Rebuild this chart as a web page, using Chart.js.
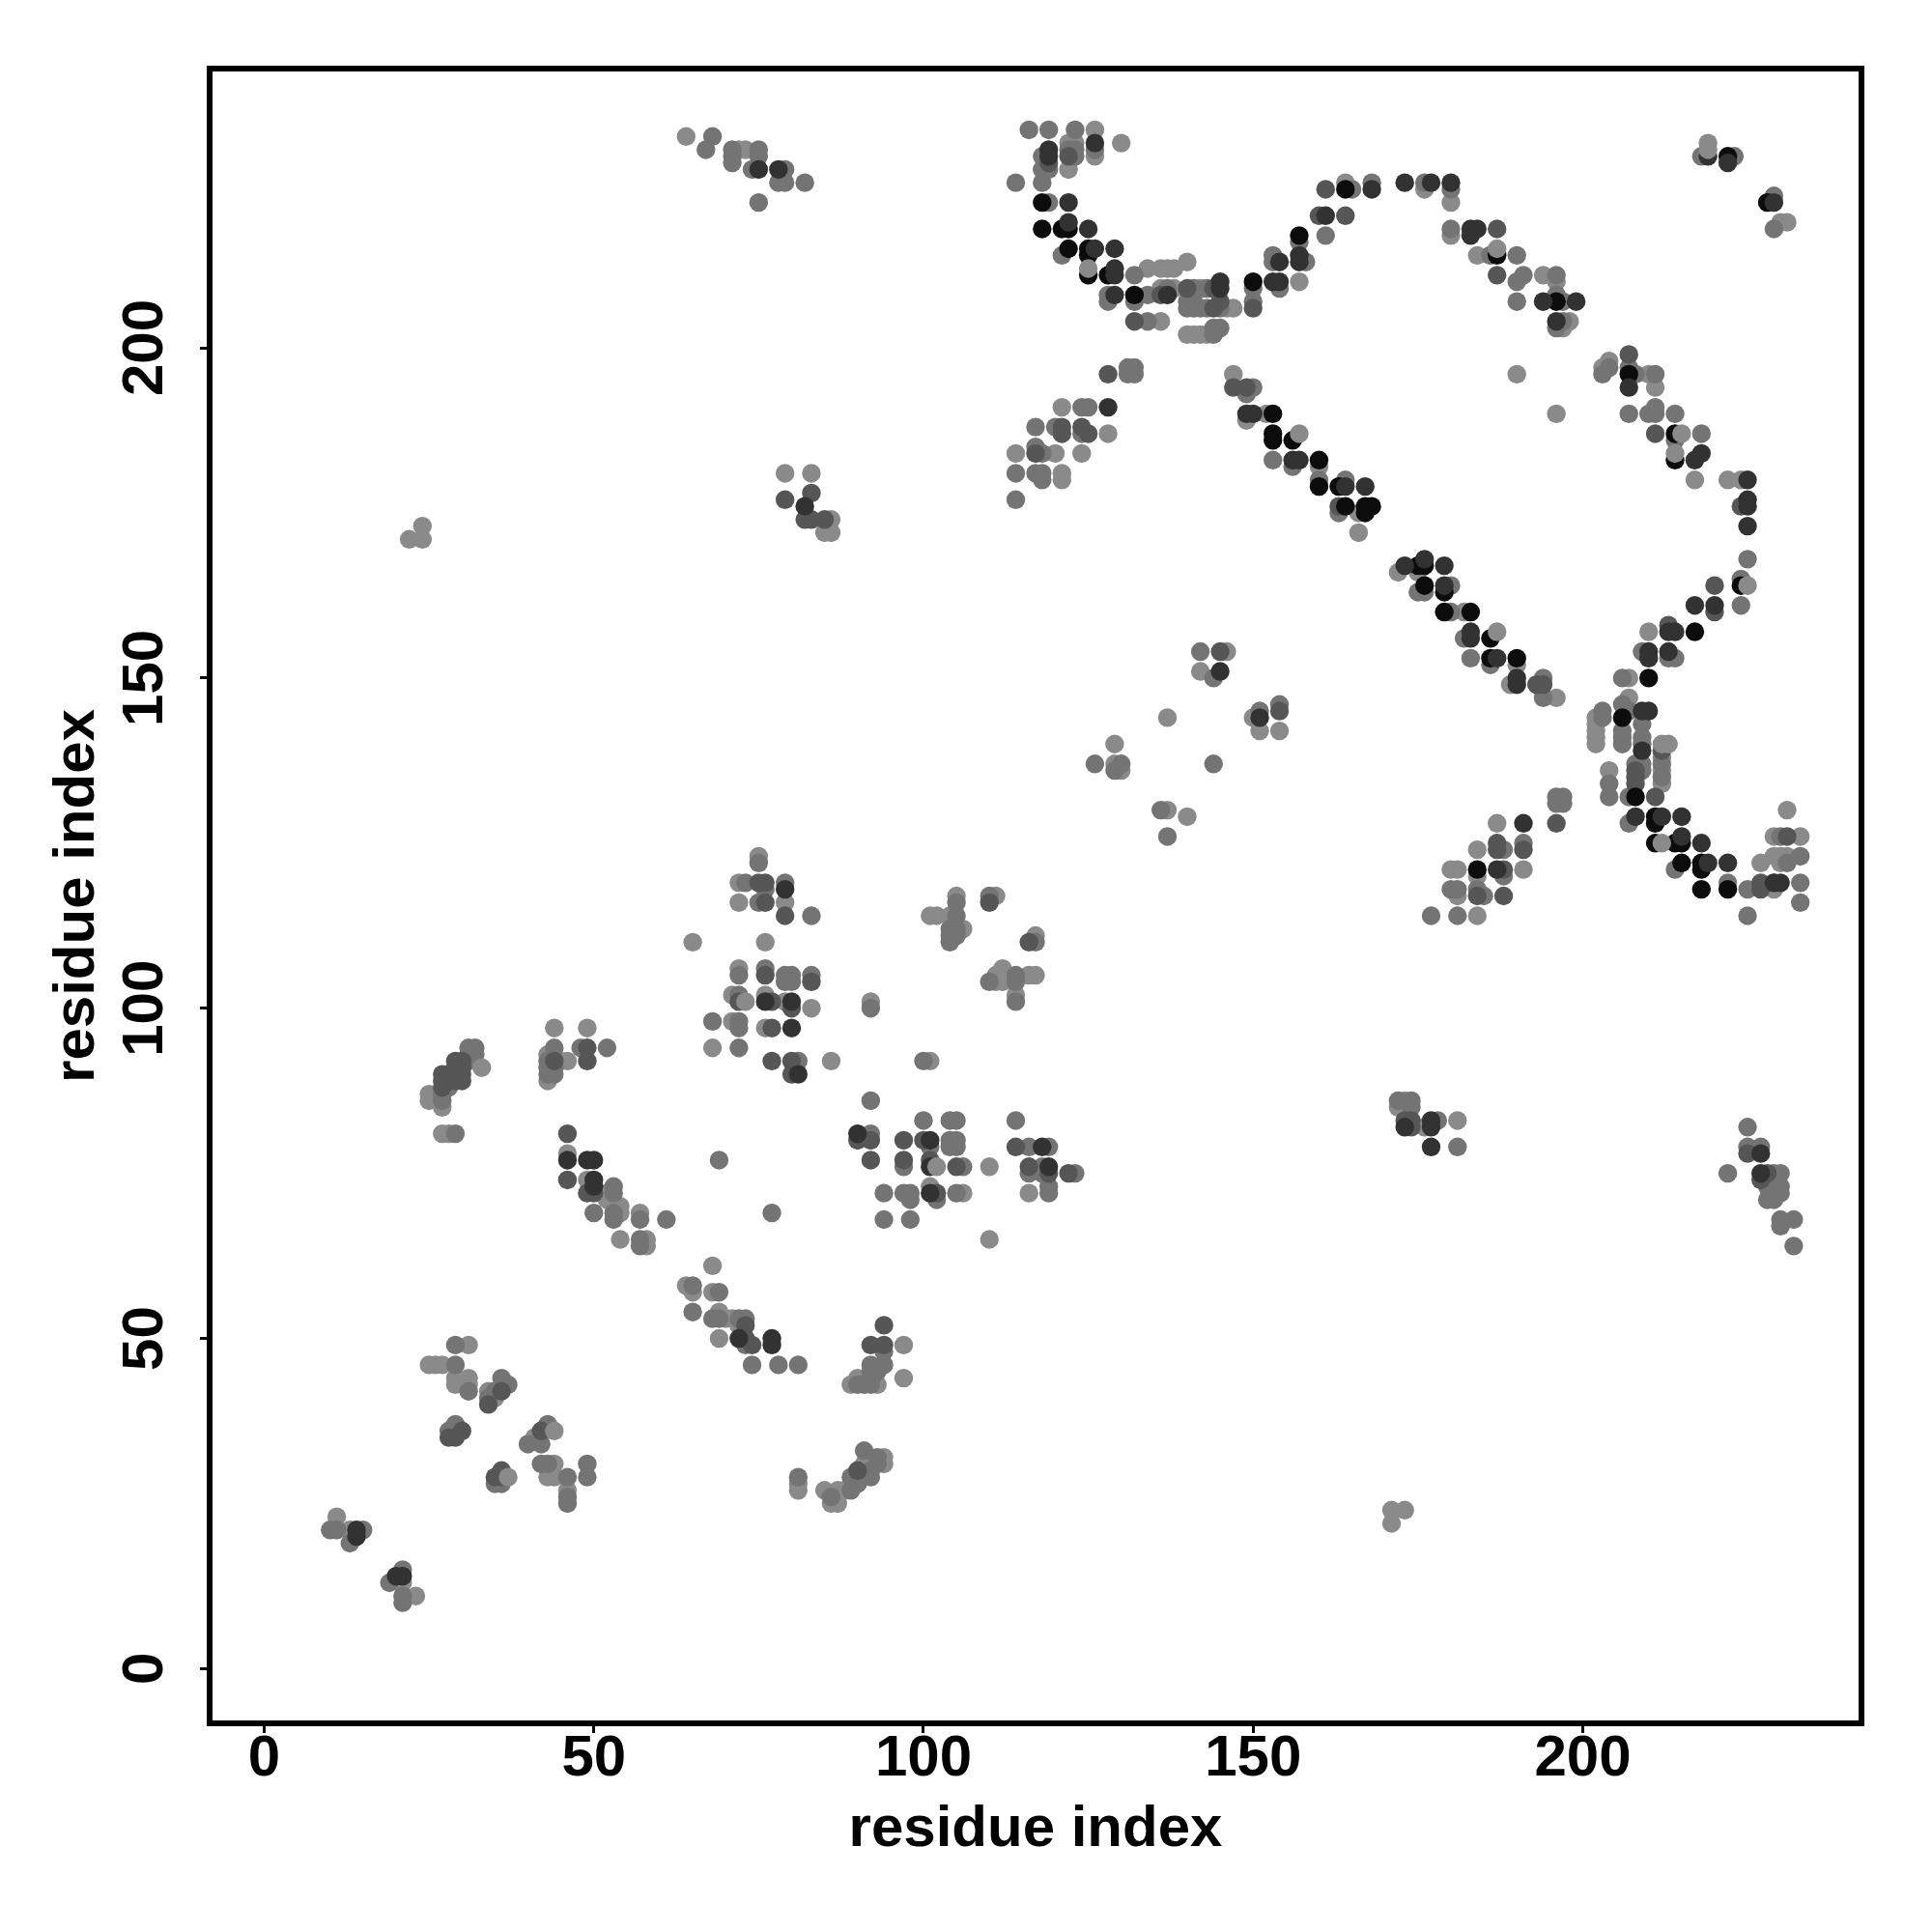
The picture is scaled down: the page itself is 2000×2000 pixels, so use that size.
<!DOCTYPE html>
<html>
<head>
<meta charset="utf-8">
<script src="https://cdn.jsdelivr.net/npm/chart.js@4"></script>
<style>
  html, body { margin: 0; padding: 0; background: #ffffff; }
  canvas { display: block; }
</style>
</head>
<body>
<canvas id="myChart" width="2000" height="2000"></canvas>
<script>
// residue contacts as [i, j] and grouped by grey level
var lightPts = [[11,23],[13,21],[23,11],[21,13],[31,49],[25,46],[26,46],[27,46],[29,44],[29,43],[31,44],[31,43],[34,42],[35,41],
  [41,35],[44,31],[43,29],[44,29],[46,27],[25,87],[25,86],[27,85],[27,81],[28,81],[44,97],[49,97],[46,92],[45,92],[43,93],[43,89],
  [46,78],[49,74],[52,72],[52,71],[54,70],[54,69],[57,69],[54,65],[58,65],[58,64],[65,110],[76,110],[75,123],[72,119],[72,116],[79,116],
  [72,106],[71,102],[76,102],[79,101],[83,100],[71,98],[76,97],[68,94],
  [86,92],[92,101],[101,92],[105,117],[111,117],[101,114],[102,114],[104,114],[106,112],[117,111],[112,106],[111,105],[111,104],[112,104],[116,105],[117,105],[114,102],
  [110,76],[101,73],[106,72],[110,65],[116,72],
  [68,61],[64,58],[65,57],[68,57],[69,54],[70,53],[71,53],[69,50],[72,52],
  [97,49],[97,44],[89,43],[90,44],[93,43],[81,28],[81,27],[85,27],[86,25],[87,25],[87,27],[88,27],[91,31],[94,31],[94,32],
  [24,173],[22,171],[24,171],[79,181],[83,181],[85,172],[86,172],[86,174],[129,140],[129,137],[130,136],[137,144],[137,130],[140,129],[154,142],[151,142],[142,151],[146,154],[150,144],
  [173,86],[172,85],[176,82],[181,83],[173,24],[171,24],[171,22],
  [187,128],[184,124],[180,121],[181,121],[184,120],[191,121],[181,117],[184,114],
  [202,140],[202,141],[202,142],[202,143],[207,147],[212,138],[212,136],[212,134],[204,136],[202,144],[233,126],[231,130],[229,126],[229,123],[230,123],[231,123],[230,122],[229,118],[227,122],
  [147,196],[149,189],[152,190],[160,182],[166,175],[166,172],[175,166],[172,166],[182,160],[190,152],[196,147],[189,149],
  [204,198],[203,197],[190,196],[196,190],[210,196],[211,194],[217,180],[222,180],[224,180],[210,157],[207,150],
  [126,233],[130,231],[122,231],[123,231],[126,229],[122,227],[114,184],[120,184],[124,184],[121,191],[128,187],[121,181],[121,180],
  [134,212],[136,212],[137,212],[138,212],[140,213],[136,209],[138,209],[136,204],[140,202],[141,202],[142,202],[143,202],[147,206],[146,206],[142,209],[157,210],
  [164,225],[180,222],[180,217],[176,224],[184,214],[186,214],[194,211],[196,210],[198,204],[197,203],[231,219],[230,219],[64,232],[72,230],[73,230]];

// light dots that sit on top of their darker neighbours
var topLightPts = [[212,125],[157,187],[187,157],[215,187],[214,184],[225,164],[187,215],[73,101],[102,76],[33,91],[37,29],[44,36],
  [125,212],[212,140],[213,140],[219,231],[219,230]];

var midPts = [[10,21],[11,21],[13,19],[15,21],[21,15],[19,13],[21,10],[21,11],[29,49],[29,46],[31,42],[36,44],[37,43],[35,42],[34,41],
  [29,37],[28,36],[43,37],[42,34],[40,34],[35,28],[36,28],[42,31],[43,31],[46,29],[46,26],[46,25],[49,31],[49,29],
  [27,86],[27,87],[28,88],[31,94],[31,93],[31,92],[32,94],[32,93],[29,81],[44,94],[48,94],[52,94],[43,92],[43,91],[43,90],[44,91],[44,90],
  [53,73],[53,72],[50,69],[53,69],[53,68],[57,68],[61,68],[57,65],[57,64],[75,122],[73,119],[76,118],[79,119],[75,116],[83,114],
  [72,105],[76,106],[79,105],[79,104],[80,105],[80,104],[83,105],[72,102],[68,98],[72,98],[72,97],[72,94],[81,92],[69,77],[77,69],
  [92,100],[92,86],[100,92],[105,116],[110,117],[105,114],[104,112],[105,112],[104,111],[105,111],[104,110],[117,110],[110,104],[114,105],[114,104],[114,101],
  [100,83],[104,83],[105,83],[114,83],[92,81],[101,79],[104,80],[105,80],[104,79],[105,79],[97,76],[106,76],[94,72],[97,72],[98,72],[98,71],[102,71],[105,72],[94,68],[98,68],
  [116,79],[119,79],[116,75],[118,76],[118,75],[123,75],[119,73],[119,72],
  [65,58],[69,57],[65,54],[68,53],[69,53],[73,53],[72,53],[73,49],[74,46],[78,46],[81,46],[92,46],[94,46],[92,44],[90,43],[91,43],[92,43],[93,45],[92,45],[94,48],
  [89,27],[90,28],[89,29],[93,32],[93,31],[92,30],[92,29],[91,33],[81,29],[86,26],
  [126,137],[129,136],[130,137],[136,130],[137,126],[144,137],[142,154],[144,150],[151,145],[154,146],
  [172,86],[174,86],[174,85],[178,83],[181,79],[225,82],[225,79],[227,79],[222,75],[229,75],[230,75],[228,73],[228,71],[229,73],[230,73],[230,72],[229,71],[230,67],[232,68],[232,64],[230,68],
  [177,114],[181,118],[188,120],[191,125],[185,117],[181,114],[196,131],[196,132],[197,132],[197,131],[188,124],[180,118],[184,118],
  [203,145],[203,144],[206,146],[206,142],[206,141],[206,140],[207,145],[209,143],[209,141],[209,140],[208,137],[212,137],[212,135],[204,134],[204,132],[207,132],[207,128],[209,136],[209,137],
  [214,121],[225,118],[225,114],[229,119],[230,126],[233,116],[233,123],[233,119],[222,119],[231,122],
  [150,194],[149,193],[153,183],[156,182],[160,180],[163,175],[164,180],[175,163],[176,163],[180,164],[180,160],[183,153],[186,152],[182,156],[194,147],[194,150],
  [203,196],[204,197],[207,197],[208,196],[211,196],[207,190],[210,190],[211,190],[211,191],[214,190],[214,186],[218,187],[225,168],[224,165],[224,161],[214,153],[213,153],[206,150],[209,154],
  [116,233],[119,233],[123,233],[118,229],[122,230],[123,230],[123,229],[126,230],[114,225],[118,225],[119,227],[118,227],[119,222],[121,214],[128,208],[128,207],[132,207],
  [132,211],[134,208],[137,209],[140,207],[141,207],[140,206],[141,206],[142,206],[143,206],[145,206],[144,203],[145,203],[144,202],[134,204],[141,209],[143,209],[150,209],[150,207],
  [153,214],[153,213],[154,209],[157,216],[158,213],[165,224],[161,217],[168,225],[180,224],[176,225],
  [131,197],[132,197],[131,196],[132,196],[124,191],[125,191],[117,188],[120,188],[124,187],[117,185],[118,184],[117,181],[118,181],[118,180],[114,181],[114,177],
  [180,218],[186,214],[190,214],[190,207],[191,211],[190,210],[196,211],[197,207],[196,208],[197,204],[196,203],[218,229],[223,229],[229,223],[229,218],
  [67,230],[68,232],[71,230],[71,229],[71,228],[75,230],[75,229],[74,227],[78,225],[79,225],[79,227],[82,225],[75,222]];

var dimPts = [[34,40],[36,42],[30,36],[28,35],[29,35],[42,36],[36,30],[35,29],[36,29],[27,88],[27,89],[27,90],[28,90],[28,89],[29,92],[29,91],[29,90],[30,90],[29,89],[30,89],[30,91],[30,92],
  [49,94],[49,92],[44,92],[46,81],[46,74],[49,72],[50,72],[76,119],[75,119],[76,116],[79,114],[76,105],[83,104],[72,101],[77,101],[80,100],[77,97],[77,92],[80,92],[80,90],
  [110,116],[116,110],[90,80],[92,80],[92,77],[97,80],[100,80],[97,77],[101,77],[105,76],[102,72],[114,79],[116,76],[119,75],[122,75],
  [73,50],[73,52],[74,49],[94,52],[94,49],[92,49],[90,30],[79,177],[82,174],[83,174],[83,178],[85,174],[145,154],[154,145],
  [174,83],[173,83],[174,82],[225,78],[227,74],[228,75],
  [187,125],[187,124],[188,121],[184,117],[188,117],[191,124],[196,128],[208,135],[208,134],[208,136],[212,139],[211,132],[227,119],[227,118],[231,126],
  [147,194],[149,194],[163,176],[193,149],[194,149],[220,164],[220,160],[211,187],[207,199],[224,176],
  [119,228],[122,229],[136,208],[140,209],[144,209],[145,207],[144,206],[132,204],[161,224],[160,220],[164,220],[150,206],
  [128,196],[117,184],[121,188],[121,187],[124,188],[125,187],[213,158],[187,211],[187,218]];

var darkPts = [[14,21],[14,20],[20,14],[21,14],[46,77],[49,77],[50,77],[50,74],[50,73],[79,118],[76,101],[80,101],[80,97],[81,90],
  [90,81],[101,80],[101,76],[101,72],[118,79],[119,76],[72,50],[77,50],[77,49],[82,176],[145,151],[151,144],[173,82],[177,83],[177,82],[177,79],[227,75],[227,78],
  [191,128],[208,129],[187,121],[209,145],[210,145],[209,139],[215,129],[218,125],[215,126],[219,122],[222,122],[229,119],[230,119],[212,129],
  [149,190],[150,190],[156,183],[157,183],[164,179],[167,179],[173,167],[176,168],[179,167],[179,164],[183,157],[183,156],[187,153],[190,150],[190,149],
  [217,183],[218,184],[225,180],[225,177],[225,176],[225,173],[217,161],[220,161],[213,157],[214,157],[213,154],[210,154],[210,153],[207,194],[183,218],[183,217],[184,218],[199,207],[194,207],[196,204],
  [119,230],[119,229],[122,222],[122,219],[125,218],[126,215],[129,215],[129,212],[129,211],[129,208],[153,210],[154,210],[161,220],[168,224],[173,225],[177,225],[180,225],[145,210],[145,209],[137,208],
  [128,191],[222,228],[229,222],[219,229],[75,227],[78,227],[157,214],[157,213],[154,213],[126,231]];

var blackPts = [[153,190],[153,187],[153,186],[156,186],[160,183],[160,179],[163,179],[164,176],[167,176],[168,176],[167,175],[175,167],[176,167],[176,164],[179,163],[179,160],[183,160],[186,156],[186,153],[190,153],
  [184,121],[210,150],[217,157],[207,196],[214,187],[224,164],[214,183],[187,214],[196,207],[222,229],[228,222],[208,132],[211,129],[211,128],[211,125],[214,125],[215,125],[215,122],[218,122],[218,121],[218,118],[222,118],
  [118,222],[118,218],[121,218],[122,218],[122,215],[125,215],[125,214],[125,211],[128,211],[132,208],[150,210],[157,217],[164,224],[206,144]];

var xTicks = [0, 50, 100, 150, 200];
var yTicks = [0, 50, 100, 150, 200];
var axisTitle = "residue index";

// first dataset is drawn on top
var shades = ['#8a8a8a', '#323232', '#0c0c0c', '#565656', '#747474', '#8a8a8a'];
var groups = [topLightPts, darkPts, blackPts, dimPts, midPts, lightPts];

function toXY(pts) {
    return pts.map(function (p) { return { x: p[0], y: p[1] }; });
}

var tickFont = { family: '"Liberation Sans"', size: 60, weight: 'bold' };

// R style box round the plot
var boxPlugin = {
    id: 'box',
    afterDraw: function (chart) {
        var a = chart.chartArea, c = chart.ctx;
        c.save();
        c.strokeStyle = '#000';
        c.lineWidth = 6;
        c.strokeRect(a.left, a.top, a.right - a.left, a.bottom - a.top);
        c.restore();
    }
};

var ctx = document.getElementById('myChart').getContext('2d');
var chart = new Chart(ctx, {
    type: 'scatter',
    plugins: [boxPlugin],
    data: {
        datasets: groups.map(function (pts, i) {
            return {
                data: toXY(pts),
                backgroundColor: shades[i],
                borderWidth: 0,
                pointRadius: 9.7,
                pointHoverRadius: 9.7
            };
        })
    },
    options: {
        responsive: false,
        animation: false,
        layout: { padding: { left: 0, right: 73, top: 71, bottom: 0 } },
        plugins: { legend: { display: false }, tooltip: { enabled: false } },
        scales: {
            x: {
                type: 'linear',
                min: -8.28,
                max: 242.28,
                afterFit: function (s) { s.height = 216; },
                afterBuildTicks: function (s) { s.ticks = xTicks.map(function (v) { return { value: v }; }); },
                grid: { drawOnChartArea: false, drawTicks: true, tickLength: 10, lineWidth: 3, color: '#000' },
                border: { display: false },
                ticks: { color: '#000', font: tickFont, padding: -9, maxRotation: 0, autoSkip: false, includeBounds: false },
                title: { display: true, text: axisTitle, color: '#000', font: tickFont, padding: { top: 0, bottom: 70 } }
            },
            y: {
                type: 'linear',
                min: -8.28,
                max: 242.28,
                afterFit: function (s) { s.width = 217; },
                afterBuildTicks: function (s) { s.ticks = yTicks.map(function (v) { return { value: v }; }); },
                grid: { drawOnChartArea: false, drawTicks: true, tickLength: 10, lineWidth: 3, color: '#000' },
                border: { display: false },
                ticks: { color: '#000', font: tickFont, padding: 5, minRotation: 90, maxRotation: 90, crossAlign: 'center', autoSkip: false, includeBounds: false },
                title: { display: true, text: axisTitle, color: '#000', font: tickFont, padding: { top: 44, bottom: 0 } }
            }
        }
    }
});
</script>
</body>
</html>
